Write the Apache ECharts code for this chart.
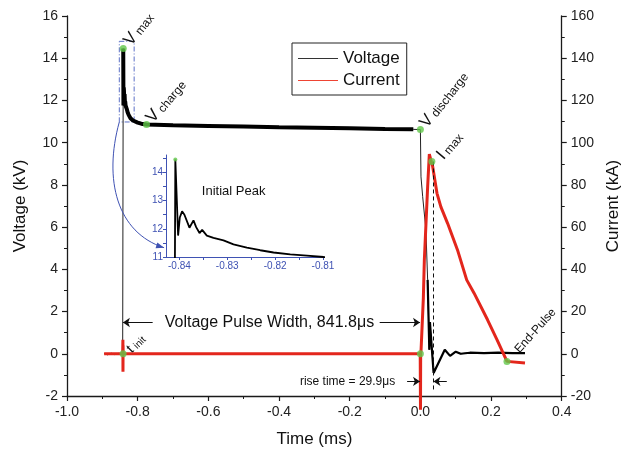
<!DOCTYPE html>
<html>
<head>
<meta charset="utf-8">
<script src="https://cdn.jsdelivr.net/npm/echarts@6/dist/echarts.min.js"></script>
<style>
  html, body { margin: 0; padding: 0; background: #fff; }
  #chart { width: 630px; height: 453px; }
</style>
</head>
<body>
<div id="chart"></div>
<script>
// voltage trace, time in ms, voltage in kV
const voltageTime = [-0.895, -0.885, -0.875, -0.865, -0.855, -0.8425, -0.8412, -0.84097, -0.84085, -0.84027,
  -0.83992, -0.83944, -0.83895, -0.8379, -0.83706, -0.8365, -0.8358, -0.83525, -0.83427, -0.83288,
  -0.83079, -0.8287, -0.82591, -0.82312, -0.82033, -0.81684, -0.81335, -0.80987, -0.80, -0.79,
  -0.775, -0.7, -0.6, -0.5, -0.4, -0.3, -0.2, -0.1, -0.02, 0,
  0.0017, 0.0065, 0.0157, 0.0205, 0.0253, 0.027, 0.0374, 0.069, 0.084, 0.1,
  0.114, 0.14, 0.18, 0.22, 0.26, 0.296]
const voltageKV = [0.02, -0.05, 0.03, -0.04, 0.02, -0.06, 0, 0, 14.46, 11.76,
  12.4, 12.62, 12.5, 12.04, 12.3, 12.06, 11.85, 11.96, 11.76, 11.68,
  11.59, 11.45, 11.33, 11.24, 11.16, 11.09, 11.05, 11.0, 10.95, 10.9,
  10.86, 10.82, 10.79, 10.76, 10.73, 10.71, 10.68, 10.65, 10.63, 10.62,
  8.38, 7.44, 5.86, 3.5, 0.19, 1.5, -0.91, 0.19, -0.1, 0.1,
  0, 0.05, 0.03, 0.05, 0.03, 0.03]

// current trace, time in ms, current in kA
const currentTime = [-0.895, -0.8425, -0.8418, -0.8416, -0.8413, -0.841, -0.5, -0.0005, 0, 0.0003,
  0.0008, 0.002, 0.0084, 0.0112, 0.0205, 0.0253, 0.0298, 0.0325, 0.0345, 0.047,
  0.058, 0.077, 0.105, 0.131, 0.152, 0.19, 0.217, 0.245, 0.25, 0.296]
const currentKA = [0, 0, 6.6, -8.5, 4, 0, 0, 0, 0, -26.5,
  0, 2, 26.5, 44.4, 79, 94.6, 91.7, 91.1, 88.9, 76,
  69.6, 61.8, 49.2, 35, 28.7, 16.1, 6.6, -3.6, -4.4, -4.4]

// green marked points
const voltageMarkTime = [-0.8412, -0.84085, -0.775, 0]
const voltageMarkKV = [0, 14.46, 10.86, 10.62]
const currentMarkTime = [0, 0.0325, 0.245]
const currentMarkKA = [0, 91.1, -3.6]

// inset axis ticks
const insetTimeLabels = [-0.84, -0.83, -0.82, -0.81]
const insetTimeTicks = [-0.84, -0.835, -0.83, -0.825, -0.82, -0.815, -0.81]
const insetKVLabels = [11, 12, 13, 14]
const insetKVTicks = [11, 11.5, 12, 12.5, 13, 13.5, 14, 14.5]

const FONT = 'Liberation Sans, Arial, Helvetica, sans-serif'
const BLUE = '#3f52b3'
const GREEN = '#62c84a'
const RED = '#e3261c'
const AXIS = '#1a1a1a'

const zip = (a, b) => a.map((x, i) => [x, b[i]])
const voltage = zip(voltageTime, voltageKV)
const current = zip(currentTime, currentKA)
const voltageThick = voltage.filter(p => p[0] >= -0.8409 && p[0] <= -0.0001)
const voltageAfter = voltage.filter(p => p[0] >= 0.0205)

const mainAxisLine = { show: true, onZero: false, lineStyle: { color: AXIS, width: 1.3 } }
const mainTick = { show: true, length: 5, lineStyle: { color: AXIS, width: 1.2 } }
const mainMinor = { show: true, splitNumber: 2, length: 3, lineStyle: { color: AXIS, width: 1 } }
const mainLabel = { fontSize: 14, color: '#222', fontFamily: FONT }
const nameStyle = { fontSize: 17, color: '#111', fontFamily: FONT }

const chart = echarts.init(document.getElementById('chart'))

chart.setOption({
  animation: false,
  backgroundColor: '#fff',
  textStyle: { fontFamily: FONT },
  legend: {
    data: [
      { name: 'Voltage', itemStyle: { color: '#333' } },
      { name: 'Current', itemStyle: { color: '#ee4433' } }
    ],
    orient: 'vertical',
    left: 292,
    top: 43,
    icon: 'rect',
    itemWidth: 40,
    itemHeight: 1.2,
    itemGap: 5,
    padding: [7, 7, 6, 6],
    borderColor: '#222',
    borderWidth: 1,
    textStyle: { fontSize: 17, color: '#111', fontFamily: FONT }
  },
  grid: [
    { left: 67, right: 64, top: 16, bottom: 57 },
    { left: 166, top: 155, width: 157, height: 102 }
  ],
  xAxis: [
    {
      type: 'value',
      gridIndex: 0,
      min: -1.0,
      max: 0.4,
      interval: 0.2,
      name: 'Time (ms)',
      nameLocation: 'middle',
      nameGap: 35,
      nameTextStyle: nameStyle,
      axisLine: mainAxisLine,
      axisTick: mainTick,
      minorTick: mainMinor,
      splitLine: { show: false },
      axisLabel: Object.assign({ margin: 9, formatter: v => Math.abs(v) < 1e-9 ? '0.0' : v.toFixed(1) }, mainLabel)
    },
    {
      type: 'value',
      gridIndex: 1,
      min: -0.8428,
      max: -0.81,
      axisLine: { show: true, onZero: false, lineStyle: { color: BLUE, width: 1 } },
      axisTick: { show: true, length: 3, customValues: insetTimeTicks, lineStyle: { color: BLUE } },
      splitLine: { show: false },
      axisLabel: { customValues: insetTimeLabels, fontSize: 10, color: BLUE, margin: 4, fontFamily: FONT, formatter: v => v.toFixed(2) }
    }
  ],
  yAxis: [
    {
      type: 'value',
      gridIndex: 0,
      position: 'left',
      min: -2,
      max: 16,
      interval: 2,
      name: 'Voltage (kV)',
      nameLocation: 'middle',
      nameRotate: 90,
      nameGap: 38,
      nameTextStyle: nameStyle,
      axisLine: mainAxisLine,
      axisTick: mainTick,
      minorTick: mainMinor,
      splitLine: { show: false },
      axisLabel: Object.assign({ margin: 9 }, mainLabel)
    },
    {
      type: 'value',
      gridIndex: 0,
      position: 'right',
      min: -20,
      max: 160,
      interval: 20,
      name: 'Current (kA)',
      nameLocation: 'middle',
      nameRotate: 90,
      nameGap: 40,
      nameTextStyle: nameStyle,
      axisLine: mainAxisLine,
      axisTick: mainTick,
      minorTick: mainMinor,
      splitLine: { show: false },
      axisLabel: Object.assign({ margin: 9 }, mainLabel)
    },
    {
      type: 'value',
      gridIndex: 1,
      min: 11,
      max: 14.62,
      axisLine: { show: true, onZero: false, lineStyle: { color: BLUE, width: 1 } },
      axisTick: { show: true, length: 3, customValues: insetKVTicks, lineStyle: { color: BLUE } },
      splitLine: { show: false },
      axisLabel: { customValues: insetKVLabels, fontSize: 10, color: BLUE, margin: 3, fontFamily: FONT }
    }
  ],
  series: [
    {
      name: 'Voltage',
      type: 'line',
      xAxisIndex: 0,
      yAxisIndex: 0,
      data: voltage,
      showSymbol: false,
      color: '#000',
      lineStyle: { color: '#222', width: 1 },
      markArea: {
        silent: true,
        itemStyle: { color: 'rgba(0,0,0,0)', borderColor: '#5a6fc6', borderWidth: 1, borderType: [5, 2, 1, 2] },
        data: [[{ coord: [-0.852, 14.8] }, { coord: [-0.81, 10.98] }]]
      },
      markLine: {
        silent: true,
        symbol: ['none', 'arrow'],
        symbolSize: 7,
        label: { show: false },
        lineStyle: { color: '#111', width: 1, type: 'solid' },
        data: [
          [{ coord: [-0.7576, 1.48] }, { coord: [-0.8418, 1.48] }],
          [{ coord: [-0.1152, 1.48] }, { coord: [-0.001, 1.48] }],
          [{ coord: [-0.0376, -1.31] }, { coord: [-0.001, -1.31] }],
          [{ coord: [0.0747, -1.31] }, { coord: [0.037, -1.31] }]
        ]
      }
    },
    {
      name: 'Voltage',
      type: 'line',
      xAxisIndex: 0,
      yAxisIndex: 0,
      data: voltageThick,
      showSymbol: false,
      color: '#000',
      lineStyle: { color: '#000', width: 4 }
    },
    {
      name: 'Voltage',
      type: 'line',
      xAxisIndex: 0,
      yAxisIndex: 0,
      data: voltageAfter,
      showSymbol: false,
      color: '#000',
      lineStyle: { color: '#000', width: 2.2 }
    },
    {
      name: 'Current',
      type: 'line',
      xAxisIndex: 0,
      yAxisIndex: 1,
      data: current,
      showSymbol: false,
      clip: false,
      color: RED,
      lineStyle: { color: RED, width: 3 },
      markLine: {
        silent: true,
        symbol: ['none', 'none'],
        label: { show: false },
        lineStyle: { color: '#111', width: 1, type: [4, 3] },
        data: [[{ coord: [0.035, 91.1] }, { coord: [0.035, -17] }]]
      }
    },
    {
      name: 'vmarks',
      type: 'scatter',
      xAxisIndex: 0,
      yAxisIndex: 0,
      data: zip(voltageMarkTime, voltageMarkKV),
      symbolSize: 7,
      itemStyle: { color: GREEN },
      z: 5
    },
    {
      name: 'imarks',
      type: 'scatter',
      xAxisIndex: 0,
      yAxisIndex: 1,
      data: zip(currentMarkTime, currentMarkKA),
      symbolSize: 7,
      itemStyle: { color: GREEN },
      z: 5
    },
    {
      name: 'inset',
      type: 'line',
      xAxisIndex: 1,
      yAxisIndex: 2,
      data: voltage,
      showSymbol: false,
      color: '#000',
      lineStyle: { color: '#000', width: 1.8 }
    },
    {
      name: 'insetPeak',
      type: 'scatter',
      xAxisIndex: 1,
      yAxisIndex: 2,
      data: [[voltageMarkTime[1], voltageMarkKV[1]]],
      symbolSize: 4,
      itemStyle: { color: GREEN },
      z: 5
    }
  ]
})

// annotations, anchored to data coordinates
const MAIN_V = { xAxisIndex: 0, yAxisIndex: 0 }
const MAIN_I = { xAxisIndex: 0, yAxisIndex: 1 }
const INSET = { xAxisIndex: 1, yAxisIndex: 2 }
const toPx = (finder, pt) => chart.convertToPixel(finder, pt)

const pointLabels = [
  { at: MAIN_V, pt: [voltageMarkTime[0], voltageMarkKV[0]], base: 't', sub: 'init', dx: 6, dy: -3, rot: 45, big: 14, small: 10 },
  { at: MAIN_V, pt: [voltageMarkTime[1], voltageMarkKV[1]], base: 'V', sub: 'max', dx: 4, dy: -5, rot: 52, big: 17, small: 12 },
  { at: MAIN_V, pt: [voltageMarkTime[2], voltageMarkKV[2]], base: 'V', sub: 'charge', dx: 3, dy: -4, rot: 50, big: 17, small: 12 },
  { at: MAIN_V, pt: [voltageMarkTime[3], voltageMarkKV[3]], base: 'V', sub: 'discharge', dx: 3, dy: -4, rot: 52, big: 17, small: 12 },
  { at: MAIN_I, pt: [currentMarkTime[1], currentMarkKA[1]], base: 'I', sub: 'max', dx: 8, dy: -4, rot: 50, big: 17, small: 12 },
  { at: MAIN_I, pt: [currentMarkTime[2], currentMarkKA[2]], base: 'End-Pulse', sub: '', dx: 10, dy: -10, rot: 48, big: 12, small: 10 }
]

const graphics = pointLabels.map(l => {
  const p = toPx(l.at, l.pt)
  return {
    type: 'text',
    x: p[0] + l.dx,
    y: p[1] + l.dy,
    rotation: l.rot * Math.PI / 180,
    silent: true,
    z: 100,
    style: {
      text: l.sub ? '{b|' + l.base + '}{s|' + l.sub + '}' : '{b|' + l.base + '}',
      align: 'left',
      verticalAlign: 'middle',
      rich: {
        b: { fontSize: l.big, fontFamily: FONT, fill: '#111' },
        s: { fontSize: l.small, fontFamily: FONT, fill: '#111', verticalAlign: 'bottom', padding: [0, 0, 0, 3] }
      }
    }
  }
})

const plainTexts = [
  { at: MAIN_V, pt: [-0.7233, 1.48], text: 'Voltage Pulse Width, 841.8\u03bcs', size: 16, align: 'left' },
  { at: MAIN_V, pt: [-0.0713, -1.31], text: 'rise time = 29.9\u03bcs', size: 12, align: 'right' },
  { at: INSET, pt: [-0.83531, 13.34], text: 'Initial Peak', size: 13, align: 'left' }
]
plainTexts.forEach(t => {
  const p = toPx(t.at, t.pt)
  graphics.push({
    type: 'text',
    x: p[0],
    y: p[1],
    silent: true,
    z: 100,
    style: { text: t.text, fontSize: t.size, fontFamily: FONT, fill: '#111', align: t.align, verticalAlign: 'middle' }
  })
})

// blue curved arrow from the zoom box to the inset
const s = toPx(MAIN_V, [-0.852, 10.98])
const e = toPx(INSET, [-0.8432, 11.33])
const c1 = [s[0] - 16, s[1] + 58]
const c2 = [e[0] - 47, e[1] - 15]
graphics.push({
  type: 'bezierCurve',
  silent: true,
  z: 90,
  shape: { x1: s[0], y1: s[1], cpx1: c1[0], cpy1: c1[1], cpx2: c2[0], cpy2: c2[1], x2: e[0], y2: e[1] },
  style: { stroke: BLUE, lineWidth: 1, fill: null }
})
const dl = Math.hypot(e[0] - c2[0], e[1] - c2[1])
const d = [(e[0] - c2[0]) / dl, (e[1] - c2[1]) / dl]
const n = [-d[1], d[0]]
graphics.push({
  type: 'polygon',
  silent: true,
  z: 90,
  shape: {
    points: [
      [e[0], e[1]],
      [e[0] - 8 * d[0] + 3 * n[0], e[1] - 8 * d[1] + 3 * n[1]],
      [e[0] - 8 * d[0] - 3 * n[0], e[1] - 8 * d[1] - 3 * n[1]]
    ]
  },
  style: { fill: BLUE }
})

chart.setOption({ graphic: graphics })
</script>
</body>
</html>
